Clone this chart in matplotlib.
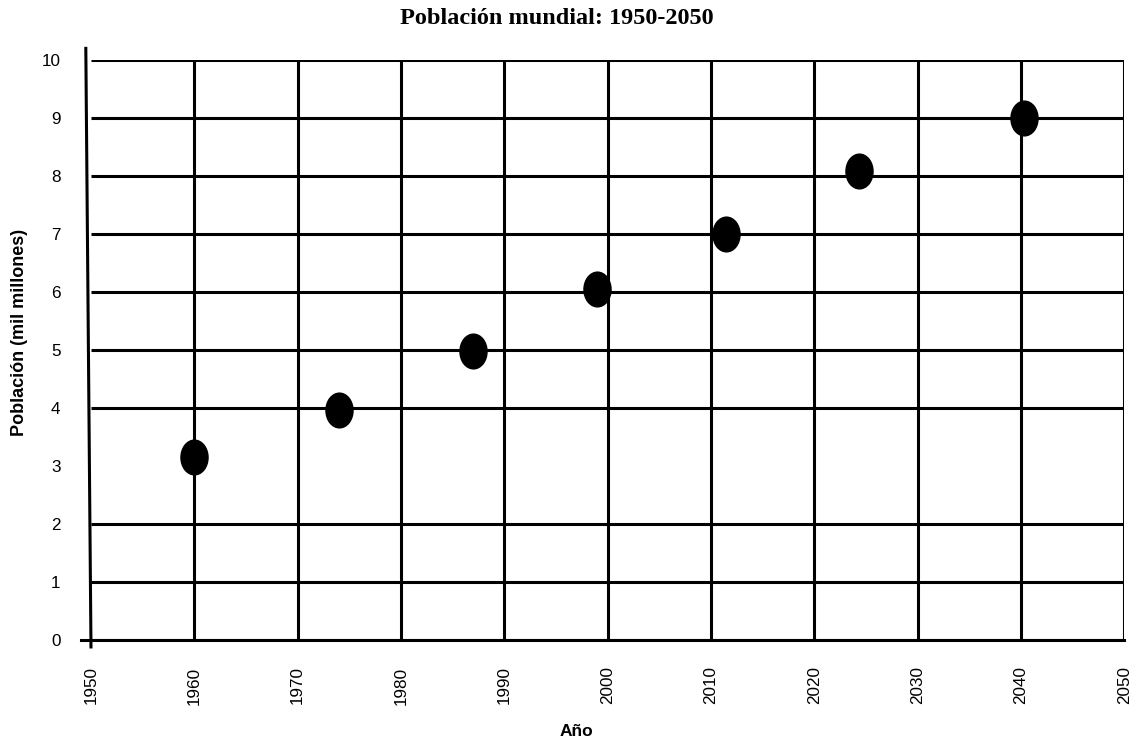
import matplotlib.pyplot as plt
from matplotlib.path import Path
from matplotlib.transforms import Affine2D

# data
years = [1960, 1974, 1987, 1999, 2011.5, 2024.3, 2040.3]
population = [3.15, 3.97, 4.98, 6.05, 7.0, 8.08, 9.0]

xticks = list(range(1950, 2051, 10))
yticks = list(range(0, 11))
# the original has no horizontal line at 3
hgrid = [0, 1, 2, 4, 5, 6, 7, 8, 9, 10]

plt.rcParams['font.family'] = ['Liberation Sans', 'DejaVu Sans']

fig = plt.figure(figsize=(11.33, 7.44), dpi=100)
ax = fig.add_axes([0.0803, 0.1398, 0.912, 0.7796])

lw = 2.2
ax.hlines(hgrid, 1950, 2050, color='black', lw=lw, zorder=1)
ax.vlines(xticks[1:], 0, 10, color='black', lw=lw, zorder=1)
# slightly crooked left axis, bottom axis running a bit past 1950
ax.plot([1949.5, 1950.0], [10.2, -0.12], color='black', lw=lw, clip_on=False, zorder=2)
ax.plot([1949.0, 2050], [0, 0], color='black', lw=lw, clip_on=False, zorder=2)

# oval markers
oval = Path.unit_circle().transformed(Affine2D().scale(0.78, 1.0))
ax.plot(years, population, linestyle='none', marker=oval, markersize=25,
        color='black', zorder=3)

ax.set_xlim(1950, 2050)
ax.set_ylim(0, 10)
ax.set_xticks(xticks)
ax.set_yticks(yticks)
ax.tick_params(length=0)
ax.tick_params(axis='x', pad=19, labelsize=12.3, labelrotation=90)
ax.tick_params(axis='y', pad=22, labelsize=12.3)
for s in ax.spines.values():
    s.set_visible(False)

ax.set_xlabel('Año', fontsize=12.5, fontweight='bold')
ax.xaxis.set_label_coords(0.47, -0.145)
ax.set_ylabel('Población (mil millones)', fontsize=13, fontweight='bold')
ax.yaxis.set_label_coords(-0.061, 0.53)

fig.text(0.4916, 0.975, 'Población mundial: 1950-2050', ha='center', va='center',
         family='Liberation Serif', fontsize=17.5, fontweight='bold')

fig.savefig('out.png', dpi=100)
